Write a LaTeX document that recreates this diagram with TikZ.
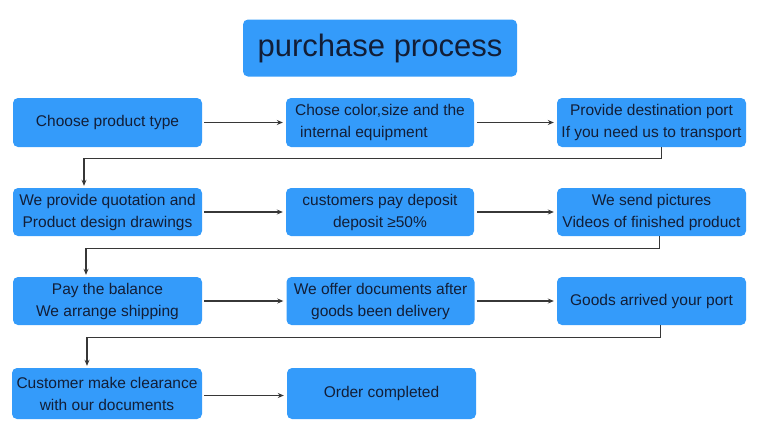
\documentclass[tikz,border=0pt]{standalone}
\usepackage{fontspec}
\setmainfont{Liberation Sans}
\usetikzlibrary{arrows.meta}
\definecolor{boxblue}{RGB}{52,155,250}
\definecolor{txt}{RGB}{18,30,55}
\definecolor{line}{RGB}{55,55,55}
\tikzset{
  stepbox/.style={fill=boxblue, rounded corners=5pt, minimum width=189pt, minimum height=49pt, inner sep=0pt, align=center, text=txt, font=\fontsize{15.5}{22}\selectfont},
  titlebox/.style={fill=boxblue, rounded corners=5pt, minimum width=274pt, minimum height=57pt, inner sep=0pt, text=txt, font=\fontsize{31}{36}\selectfont},
  conn/.style={draw=line, line width=1.1pt, -{Stealth[length=6pt,width=5pt]}},
}
\begin{document}
\begin{tikzpicture}[x=1pt,y=-1pt]
\useasboundingbox (0,0) rectangle (762,442);
\node[titlebox] (title) at (380,48) {purchase process};

\node[stepbox] (a1) at (107.5,122.5) {Choose product type};
\node[stepbox, minimum width=188pt] (a2) at (380,122.5) {Chose color,size and the\\internal equipment\hspace*{32pt}};
\node[stepbox] (a3) at (651.5,122.5) {Provide destination port\\If you need us to transport};

\node[stepbox, minimum height=48pt] (b1) at (107.5,212) {We provide quotation and\\Product design drawings};
\node[stepbox, minimum width=188pt, minimum height=48pt] (b2) at (380,212) {customers pay deposit\\deposit ≥50\%};
\node[stepbox, minimum height=48pt] (b3) at (651.5,212) {We send pictures\\Videos of finished product};

\node[stepbox, minimum height=48pt] (c1) at (107.5,301) {Pay the balance\\We arrange shipping};
\node[stepbox, minimum width=188pt, minimum height=48pt] (c2) at (380.5,301) {We offer documents after\\goods been delivery};
\node[stepbox, minimum height=48pt] (c3) at (651.5,301) {Goods arrived your port};

\node[stepbox, minimum width=190pt, minimum height=51pt] (d1) at (107,393.5) {Customer make clearance\\with our documents};
\node[stepbox, minimum height=51pt] (d2) at (381.5,393.5) {Order completed};

\coordinate (k1) at ([xshift=10pt]a3.south);
\coordinate (k2) at ([xshift=8pt]b3.south);
\coordinate (k3) at ([xshift=9pt]c3.south);

\draw[conn, shorten <=2pt, shorten >=3pt] (a1.east) -- (a2.west);
\draw[conn, shorten <=3pt, shorten >=3pt] (a2.east) -- (a3.west);
\draw[conn, shorten >=2pt] (k1) -- ++(0,11) -| ([xshift=-23.5pt]b1.north);

\draw[conn, shorten <=2pt, shorten >=3pt] (b1.east) -- (b2.west);
\draw[conn, shorten <=3pt, shorten >=3pt] (b2.east) -- (b3.west);
\draw[conn, shorten >=2pt] (k2) -- ++(0,12) -| ([xshift=-21.5pt]c1.north);

\draw[conn, shorten <=2pt, shorten >=3pt] (c1.east) -- (c2.west);
\draw[conn, shorten <=2pt, shorten >=3pt] (c2.east) -- (c3.west);
\draw[conn, shorten >=2pt] (k3) -- ++(0,12) -| ([xshift=-20pt]d1.north);

\draw[conn, shorten <=2pt, shorten >=3pt] ([yshift=-2pt]d1.east) -- ([yshift=-2pt]d2.west);
\end{tikzpicture}
\end{document}
